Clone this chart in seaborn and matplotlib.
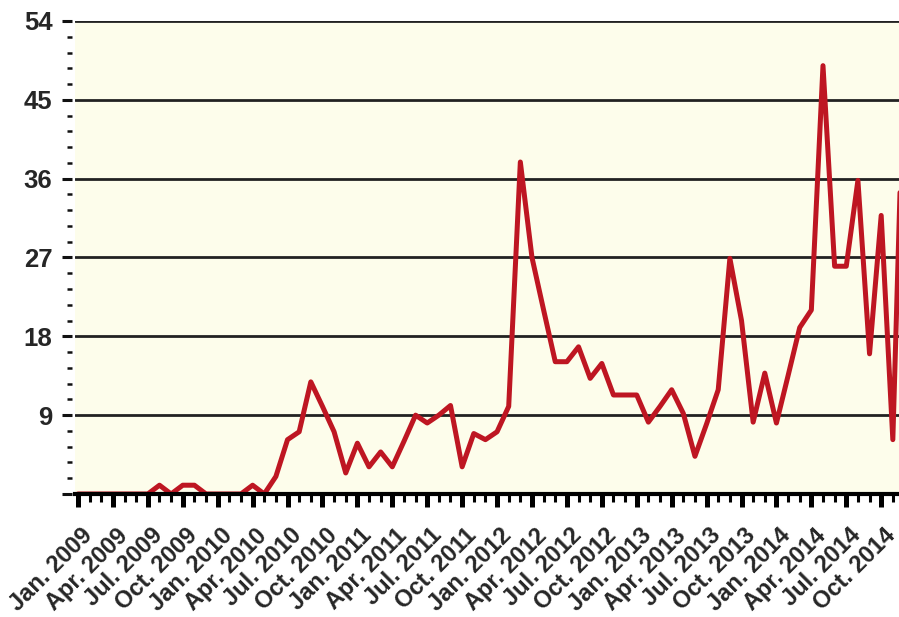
import matplotlib
matplotlib.use("Agg")
import matplotlib.pyplot as plt
import matplotlib.transforms as mtransforms
from matplotlib.ticker import MultipleLocator
import seaborn as sns
import pandas as pd

sns.set_theme(style="white")
plt.rcParams["font.family"] = ["Liberation Sans", "DejaVu Sans"]
plt.rcParams["font.weight"] = "bold"

# monthly values, Jan 2009 .. Dec 2014
years = [2009, 2010, 2011, 2012, 2013, 2014]
month_names = ["Jan.", "Feb.", "Mar.", "Apr.", "May", "Jun.",
               "Jul.", "Aug.", "Sep.", "Oct.", "Nov.", "Dec."]
vals_2009 = [0, 0, 0, 0, 0, 0, 0, 1, 0, 1, 1, 0]
vals_2010 = [0, 0, 0, 1, 0, 2, 6.2, 7.1, 12.8, 10, 7.1, 2.4]
vals_2011 = [5.8, 3.1, 4.8, 3.1, 6, 9, 8.1, 9, 10.1, 3.1, 6.9, 6.2]
vals_2012 = [7.1, 10, 37.9, 27, 21, 15.1, 15.1, 16.8, 13.2, 14.9, 11.3, 11.3]
vals_2013 = [11.3, 8.2, 10, 11.9, 9.2, 4.3, 8, 11.9, 26.9, 19.8, 8.2, 13.8]
vals_2014 = [8.1, 13.5, 19, 21, 48.9, 26, 26, 35.8, 16, 31.8, 6.2, 52]

y_ticks = [0, 9, 18, 27, 36, 45, 54]
y_tick_labels = ["", "9", "18", "27", "36", "45", "54"]

labels = [f"{m} {y}" for y in years for m in month_names]
values = vals_2009 + vals_2010 + vals_2011 + vals_2012 + vals_2013 + vals_2014
df = pd.DataFrame({"month": range(len(values)), "label": labels, "count": values})

fig = plt.figure(figsize=(8.99, 6.17), dpi=100)
ax = fig.add_axes([0.0834, 0.1994, 0.9166, 0.7666])

sns.lineplot(data=df, x="month", y="count", color="#be1622",
             linewidth=3.6, ax=ax, zorder=3)

ax.set_facecolor("#fdfdeb")
ax.set_xlabel("")
ax.set_ylabel("")

ax.set_yticks(y_ticks, labels=y_tick_labels)
ax.yaxis.set_minor_locator(MultipleLocator(1.8))
quarters = df.iloc[::3]
ax.set_xticks(quarters["month"], labels=quarters["label"])
ax.set_xticks(df["month"], minor=True)
# limits after the ticks, set_xticks would widen them otherwise
ax.set_xlim(-0.26, 70.53)
ax.set_ylim(0, 54)

ax.grid(axis="y", which="major", color="#222222", linewidth=2.0)
ax.grid(axis="x", visible=False)

for side in ["top", "right"]:
    ax.spines[side].set_visible(False)
ax.spines["left"].set_position(("outward", 2))
ax.spines["left"].set_visible(False)
ax.spines["bottom"].set_color("black")
ax.spines["bottom"].set_linewidth(3)
ax.spines["bottom"].set_zorder(4)

ax.tick_params(axis="y", which="major", left=True, direction="out",
               length=7.2, width=2.2, color="#111111", labelsize=18.5, pad=7)
ax.tick_params(axis="y", which="minor", left=True, direction="out",
               length=3.6, width=1.8, color="#111111")
ax.tick_params(axis="x", which="major", bottom=True, direction="out",
               length=9, width=3.6, color="black", labelsize=17, pad=6)
ax.tick_params(axis="x", which="minor", bottom=True, direction="out",
               length=5.4, width=2.2, color="black")

shift = mtransforms.ScaledTranslation(2 / 72, -6.5 / 72, fig.dpi_scale_trans)
for lbl in ax.get_xticklabels():
    lbl.set_rotation(45)
    lbl.set_ha("right")
    lbl.set_va("top")
    lbl.set_rotation_mode("anchor")
    lbl.set_transform(lbl.get_transform() + shift)

fig.savefig("out.png", dpi=100)
